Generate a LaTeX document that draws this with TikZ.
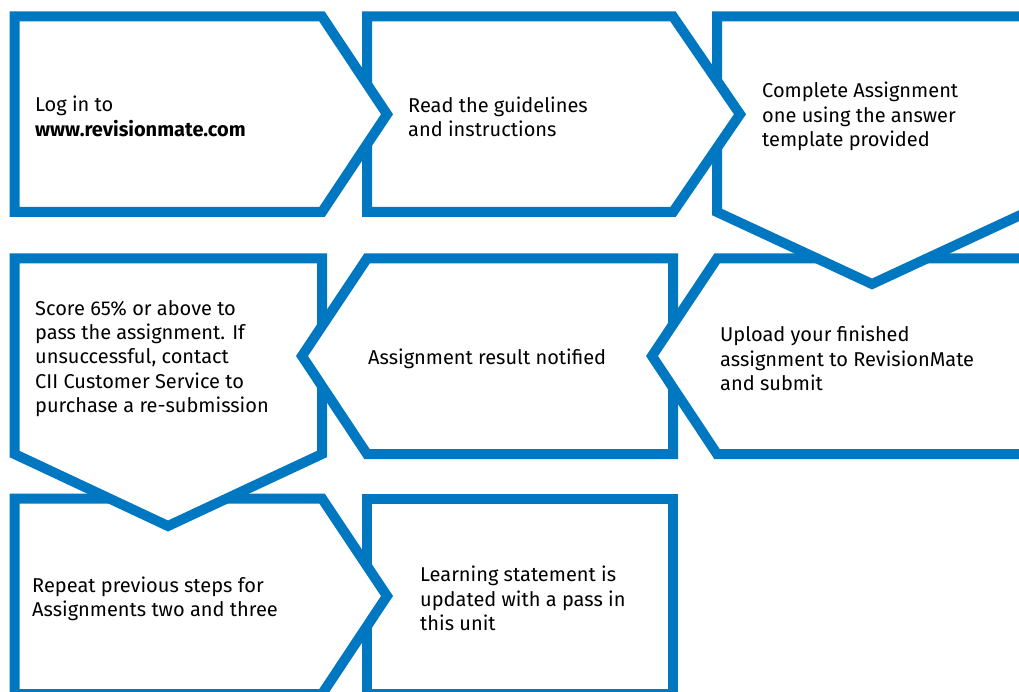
\documentclass[tikz,border=0pt]{standalone}
\usepackage{fontspec}
\setmainfont{Fira Sans}
\usetikzlibrary{positioning}
\definecolor{cmblue}{HTML}{0078C1}

\tikzset{
  stepshape/.style={draw=cmblue,fill=white,line width=10pt,line join=miter},
  steptext/.style={anchor=west,inner sep=0pt,align=left,
    font=\fontsize{20}{24.3}\selectfont}
}

\begin{document}
\begin{tikzpicture}[x=1pt,y=-1pt]

  \useasboundingbox (0,0) rectangle (1019,692);
  \clip (0,0) rectangle (1019,692);

  % ---- Row three (drawn first, lies underneath) ----------------
  % Learning statement
  \draw[stepshape] (367,498.5) -- (673,498.5) -- (673,694) -- (367,694) -- cycle;
  % Repeat steps
  \draw[stepshape] (14.5,498.5) -- (322,498.5) -- (387,596) -- (322,694)
    -- (14.5,694) -- cycle;

  % ---- Row two -------------------------------------------------
  % Score, points down
  \draw[stepshape] (14.5,258.5) -- (322,258.5) -- (322,454) -- (168,526)
    -- (14.5,454) -- cycle;
  % Result, points left
  \draw[stepshape] (302,356) -- (367,258.5) -- (673,258.5) -- (673,454)
    -- (367,454) -- cycle;
  % Upload, points left
  \draw[stepshape] (652,356) -- (717,258.5) -- (1027,258.5) -- (1027,454)
    -- (717,454) -- cycle;

  % ---- Row one -------------------------------------------------
  % Complete, points down
  \draw[stepshape] (717,16.5) -- (1027,16.5) -- (1027,212) -- (872,284)
    -- (717,212) -- cycle;
  % Read, points right
  \draw[stepshape] (367,16.5) -- (673,16.5) -- (740,114.25) -- (673,212)
    -- (367,212) -- cycle;
  % Log in, points right
  \draw[stepshape] (14.5,16.5) -- (322,16.5) -- (387,114.25) -- (322,212)
    -- (14.5,212) -- cycle;

  % ---- Texts ---------------------------------------------------
  \node[steptext] (login) at (35,116.5)
    {Log in to\\\textbf{www.revisionmate.com}};
  \node[steptext] (read) at (408,116.5)
    {Read the guidelines\\and instructions};
  \node[steptext] (complete) at (762,116.5)
    {Complete Assignment\\one using the answer\\template provided};
  \node[steptext] (score) at (35,358.5)
    {Score 65\% or above to\\pass the assignment. If\\unsuccessful, contact\\
     CII Customer Service to\\purchase a re-submission};
  \node[steptext] (result) at (368,358.5) {Assignment result notified};
  \node[steptext] (upload) at (720,358.5)
    {Upload your finished\\assignment to RevisionMate\\and submit};
  \node[steptext] (repeat) at (32,598.5)
    {Repeat previous steps for\\Assignments two and three};
  \node[steptext] (learning) at (420,598.5)
    {Learning statement is\\updated with a pass in\\this unit};

\end{tikzpicture}
\end{document}
